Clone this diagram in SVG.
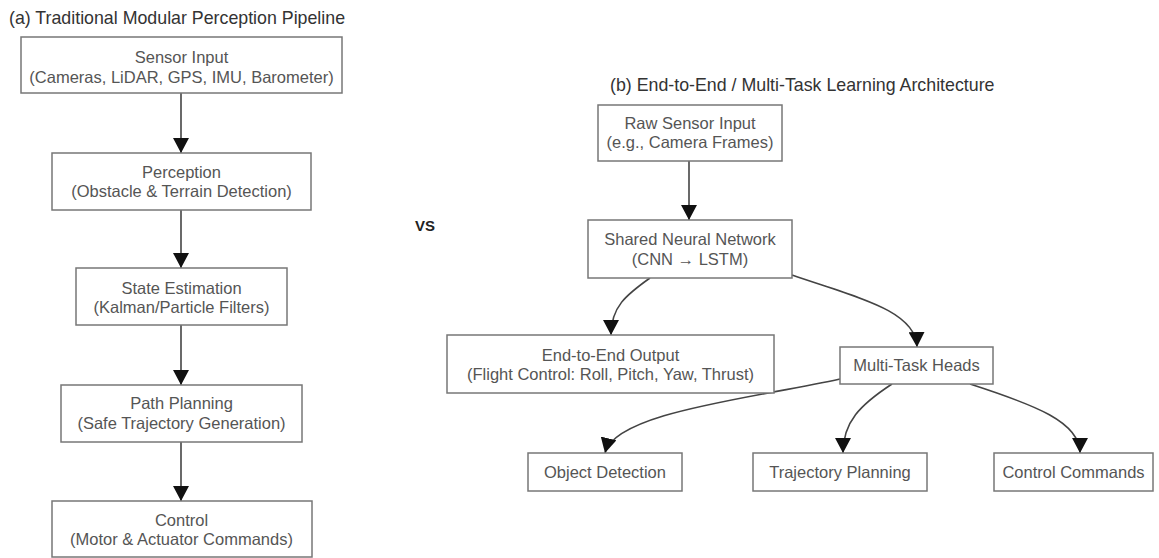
<svg xmlns="http://www.w3.org/2000/svg" width="1159" height="558" viewBox="0 0 1159 558">
<style>
.box{fill:#fff;stroke:#777;stroke-width:1.5}
.t{font-family:"Liberation Sans",Arial,sans-serif;font-size:16.5px;fill:#555;text-anchor:middle}
.title{font-family:"Liberation Sans",Arial,sans-serif;font-size:17.8px;fill:#333}
.e{fill:none;stroke:#444;stroke-width:1.6}
</style>
<defs>
<marker id="ah" markerUnits="userSpaceOnUse" markerWidth="17" markerHeight="16" refX="15" refY="8" orient="auto" viewBox="0 0 17 16">
<path d="M0,0 L15,8 L0,16 z" fill="#111"/>
</marker>
</defs>
<rect width="1159" height="558" fill="#fff"/>
<text class="title" x="9" y="24">(a) Traditional Modular Perception Pipeline</text>
<text class="title" x="610" y="91">(b) End-to-End / Multi-Task Learning Architecture</text>
<text x="415" y="231" font-family="Liberation Sans, Arial, sans-serif" font-size="15" font-weight="bold" fill="#222">VS</text>

<g id="connectors">
<path class="e" d="M181,93 L181,153" marker-end="url(#ah)"/>
<path class="e" d="M181,210 L181,268" marker-end="url(#ah)"/>
<path class="e" d="M181,325 L181,385" marker-end="url(#ah)"/>
<path class="e" d="M181,442 L181,501" marker-end="url(#ah)"/>
<path class="e" d="M689,161 L689,220" marker-end="url(#ah)"/>
<path class="e" d="M650,278 C626,295 611,307 611,335" marker-end="url(#ah)"/>
<path class="e" d="M792,275 C855,297 916,310 917,347" marker-end="url(#ah)"/>
<path class="e" d="M840,379 C755,398 615,412 605,453" marker-end="url(#ah)"/>
<path class="e" d="M892,384 C860,405 843,422 843,453" marker-end="url(#ah)"/>
<path class="e" d="M970,384 C1035,405 1080,422 1080,453" marker-end="url(#ah)"/>
</g>

<g id="sensor_input">
<rect class="box" x="21" y="37" width="321" height="56"/>
<text class="t" x="181.5" y="63">Sensor Input</text>
<text class="t" x="181.5" y="83">(Cameras, LiDAR, GPS, IMU, Barometer)</text>
</g>
<g id="perception">
<rect class="box" x="52" y="153" width="259" height="57"/>
<text class="t" x="181.5" y="178">Perception</text>
<text class="t" x="181.5" y="197">(Obstacle &amp; Terrain Detection)</text>
</g>
<g id="state_estimation">
<rect class="box" x="76" y="268" width="211" height="57"/>
<text class="t" x="181.5" y="294">State Estimation</text>
<text class="t" x="181.5" y="313">(Kalman/Particle Filters)</text>
</g>
<g id="path_planning">
<rect class="box" x="61" y="385" width="241" height="57"/>
<text class="t" x="181.5" y="409">Path Planning</text>
<text class="t" x="181.5" y="429">(Safe Trajectory Generation)</text>
</g>
<g id="control">
<rect class="box" x="52" y="501" width="260" height="56"/>
<text class="t" x="181.5" y="526">Control</text>
<text class="t" x="181.5" y="545">(Motor &amp; Actuator Commands)</text>
</g>

<g id="raw_sensor_input">
<rect class="box" x="598" y="105" width="184" height="56"/>
<text class="t" x="690" y="129">Raw Sensor Input</text>
<text class="t" x="690" y="148">(e.g., Camera Frames)</text>
</g>
<g id="shared_nn">
<rect class="box" x="588" y="220" width="204" height="58"/>
<text class="t" x="690" y="245">Shared Neural Network</text>
<text class="t" x="690" y="265">(CNN → LSTM)</text>
</g>
<g id="end_to_end_output">
<rect class="box" x="447" y="335" width="327" height="58"/>
<text class="t" x="610.5" y="361">End-to-End Output</text>
<text class="t" x="610.5" y="380">(Flight Control: Roll, Pitch, Yaw, Thrust)</text>
</g>
<g id="multi_task_heads">
<rect class="box" x="840" y="347" width="153" height="37"/>
<text class="t" x="916.5" y="371">Multi-Task Heads</text>
</g>
<g id="object_detection">
<rect class="box" x="528" y="453" width="154" height="38"/>
<text class="t" x="605" y="478">Object Detection</text>
</g>
<g id="trajectory_planning">
<rect class="box" x="753" y="453" width="174" height="38"/>
<text class="t" x="840" y="478">Trajectory Planning</text>
</g>
<g id="control_commands">
<rect class="box" x="994" y="453" width="159" height="38"/>
<text class="t" x="1073.5" y="478">Control Commands</text>
</g>
</svg>
